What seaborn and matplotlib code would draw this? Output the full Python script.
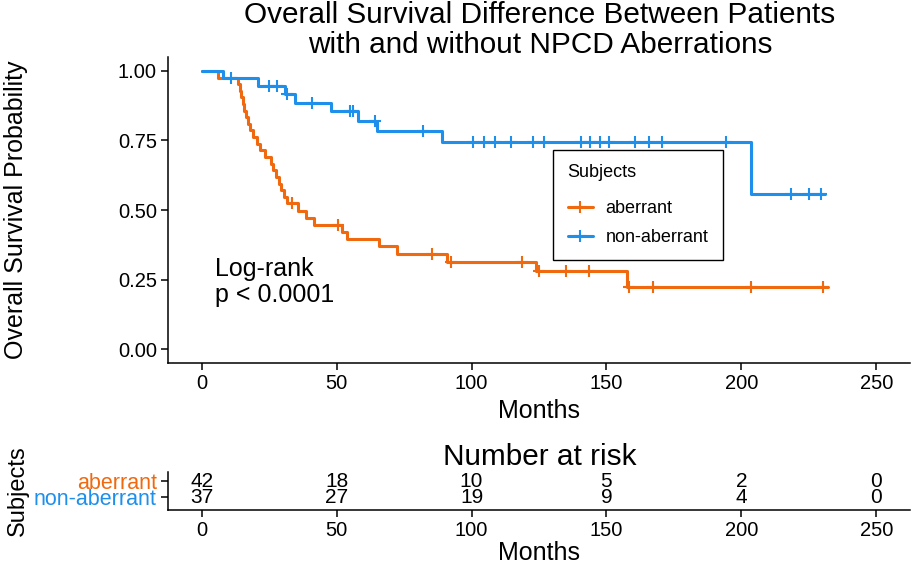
import numpy as np
import pandas as pd
import matplotlib
matplotlib.use("Agg")
import matplotlib.pyplot as plt
from matplotlib.lines import Line2D
import seaborn as sns

# === Curve data (months, survival) ===
aberrant_times = [0, 6, 13.5, 14, 14.5, 15.2, 15.8, 16.5, 17.2, 18, 19, 20.5, 21.5,
                  23.5, 25.5, 26.5, 27.5, 28.5, 29.5, 30.5, 31.5, 35.5, 38.5, 41.7,
                  52, 54, 65.6, 72.2, 91, 124, 157.5, 232]
aberrant_surv = [1.0, 0.976, 0.952, 0.929, 0.905, 0.881, 0.857, 0.833, 0.810, 0.786,
                 0.762, 0.738, 0.714, 0.690, 0.667, 0.643, 0.619, 0.595, 0.571, 0.548,
                 0.524, 0.498, 0.472, 0.447, 0.420, 0.395, 0.370, 0.343, 0.314, 0.280,
                 0.224, 0.224]
aberrant_censor = [33.5, 50.5, 85.5, 92.5, 118.7, 125, 135, 143.7, 158.5, 167.4,
                   203.5, 230.4]

nonab_times = [0, 8, 21, 31, 34.5, 48, 58, 64.8, 89, 203.4, 231]
nonab_surv = [1.0, 0.973, 0.946, 0.916, 0.886, 0.855, 0.821, 0.784, 0.746, 0.558, 0.558]
nonab_censor = [10.7, 25, 27.9, 31.5, 40.8, 55, 56, 64.2, 82, 100.7, 104.7, 108.8,
                114.8, 122.9, 126.8, 140.7, 144, 147.7, 150.8, 160.6, 165.6, 170.5,
                194.4, 218.4, 225.2, 229.5]

risk_times = [0, 50, 100, 150, 200, 250]
risk_aberrant = [42, 18, 10, 5, 2, 0]
risk_nonab = [37, 27, 19, 9, 4, 0]

groups = ["aberrant", "non-aberrant"]
colors = {"aberrant": "#F0690F", "non-aberrant": "#1E8FEA"}


def surv_at(times, surv, t):
    idx = np.searchsorted(times, t, side="right") - 1
    return np.asarray(surv)[idx]


curves = pd.concat([
    pd.DataFrame({"time": aberrant_times, "surv": aberrant_surv, "group": "aberrant"}),
    pd.DataFrame({"time": nonab_times, "surv": nonab_surv, "group": "non-aberrant"}),
])
censors = pd.concat([
    pd.DataFrame({"time": aberrant_censor,
                  "surv": surv_at(aberrant_times, aberrant_surv, aberrant_censor),
                  "group": "aberrant"}),
    pd.DataFrame({"time": nonab_censor,
                  "surv": surv_at(nonab_times, nonab_surv, nonab_censor),
                  "group": "non-aberrant"}),
])

sns.set_style("ticks")
plt.rcParams["font.family"] = ["Liberation Sans", "DejaVu Sans"]
plt.rcParams["text.color"] = "black"
plt.rcParams["axes.labelcolor"] = "black"

W, H = 913, 569
fig = plt.figure(figsize=(W / 100, H / 100), dpi=100)

# === Survival curves ===
ax = fig.add_axes([168 / W, 1 - 363 / H, 742 / W, 306 / H])
sns.lineplot(data=curves, x="time", y="surv", hue="group", palette=colors,
             estimator=None, drawstyle="steps-post", linewidth=2.2, legend=False, ax=ax)
for g in groups:
    sub = censors[censors["group"] == g]
    ax.plot(sub["time"], sub["surv"], linestyle="none", marker="+", markersize=9,
            markeredgewidth=1.5, color=colors[g])

ax.set_xlim(-12.5, 262.5)
ax.set_ylim(-0.05, 1.05)
ax.set_xticks(risk_times)
ax.set_yticks([0, 0.25, 0.5, 0.75, 1.0])
ax.set_yticklabels(["0.00", "0.25", "0.50", "0.75", "1.00"])
ax.tick_params(labelsize=14.5, length=5, width=1.1, colors="black", pad=3)
for s in ["left", "bottom"]:
    ax.spines[s].set_linewidth(1.1)
    ax.spines[s].set_color("black")
sns.despine(ax=ax)
ax.set_xlabel("")
ax.set_ylabel("Overall Survival Probability", fontsize=18)
ax.yaxis.set_label_coords(-0.189, 0.5)
fig.text(539 / W, 1 - 418 / H, "Months", fontsize=18, ha="center", va="baseline")

ax.text(5, 0.33, "Log-rank\np < 0.0001", fontsize=18, ha="left", va="top",
        linespacing=1.1)

handles = [Line2D([], [], color=colors[g], linewidth=2.2, marker="+", markersize=9,
                  markeredgewidth=1.5) for g in groups]
leg = ax.legend(handles, groups, title="Subjects", loc="upper left",
                bbox_to_anchor=(0.519, 0.696), borderaxespad=0, fontsize=13,
                title_fontsize=13, frameon=True, fancybox=False, edgecolor="black",
                framealpha=1, handlelength=1.4, handletextpad=0.7, borderpad=0.8,
                labelspacing=0.65, alignment="left")
leg.get_frame().set_linewidth(1.0)
# a bit more room between the legend title and its entries
leg._legend_box.sep += 5

# title, two lines
fig.text(540 / W, 1 - 23 / H, "Overall Survival Difference Between Patients",
         fontsize=21.4, ha="center", va="baseline")
fig.text(540 / W, 1 - 53 / H, "with and without NPCD Aberrations",
         fontsize=21.4, ha="center", va="baseline")

# === Risk table ===
rax = fig.add_axes([168 / W, 1 - 510 / H, 742 / W, 38.4 / H])
rax.set_xlim(-12.5, 262.5)
rax.set_ylim(2.8, 0.4)
for t, a, b in zip(risk_times, risk_aberrant, risk_nonab):
    rax.text(t, 1, str(a), ha="center", va="center", fontsize=15)
    rax.text(t, 2, str(b), ha="center", va="center", fontsize=15)
rax.set_yticks([1, 2])
rax.set_yticklabels(groups)
rax.set_xticks(risk_times)
rax.tick_params(labelsize=14.5, length=5, width=1.1, colors="black", pad=3)
for lab, g in zip(rax.get_yticklabels(), groups):
    lab.set_color(colors[g])
    lab.set_fontsize(15.5)
for s in ["left", "bottom"]:
    rax.spines[s].set_linewidth(1.1)
    rax.spines[s].set_color("black")
sns.despine(ax=rax)
rax.set_ylabel("Subjects", fontsize=17)
rax.yaxis.set_label_coords(-0.187, 0.5)
fig.text(540 / W, 1 - 457 / H, "Number at risk", fontsize=21.4, ha="center", va="center")
fig.text(539 / W, 1 - 553 / H, "Months", fontsize=18, ha="center", va="center")

fig.savefig("out.png", dpi=100)
